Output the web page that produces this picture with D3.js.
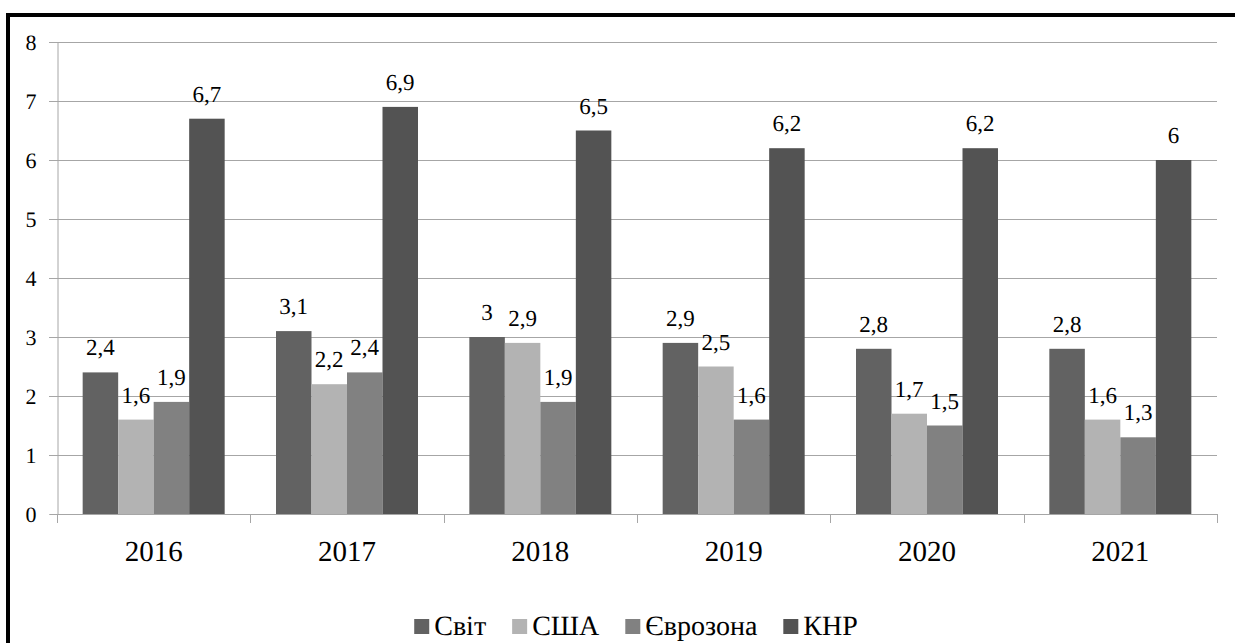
<!DOCTYPE html>
<html><head><meta charset="utf-8">
<script src="https://cdn.jsdelivr.net/npm/d3@7"></script>
<style>
html,body{margin:0;padding:0;background:#fff;}
svg{display:block;text-rendering:geometricPrecision;}
</style></head>
<body>
<svg id="chart" width="1235" height="643"></svg>
<script>
const years = ["2016","2017","2018","2019","2020","2021"];
const seriesNames = ["Світ","США","Єврозона","КНР"];
const svit = [2.4, 3.1, 3, 2.9, 2.8, 2.8];
const usa = [1.6, 2.2, 2.9, 2.5, 1.7, 1.6];
const euro = [1.9, 2.4, 1.9, 1.6, 1.5, 1.3];
const china = [6.7, 6.9, 6.5, 6.2, 6.2, 6];
const yTicks = [0,1,2,3,4,5,6,7,8];
const colors = ["#626262","#b3b3b3","#818181","#535353"];

const values = [svit, usa, euro, china];
const font = px => `normal ${px}px 'Liberation Serif', 'Tinos', 'Times New Roman', serif`;
const svg = d3.select("#chart");
const W = 1235, H = 643;
const pLeft = 57, pRight = 1217, pTop = 42, pBottom = 514;

// frame (left and top thick black lines)
svg.append("line").attr("x1",8).attr("x2",8).attr("y1",13).attr("y2",H).attr("stroke","#000").attr("stroke-width",4);
svg.append("line").attr("x1",6).attr("x2",W).attr("y1",15).attr("y2",15).attr("stroke","#000").attr("stroke-width",4);

const y = d3.scaleLinear().domain([0,8]).range([pBottom, pTop]);
const x0 = d3.scaleBand().domain(years).range([pLeft, pRight]).padding(0);
const groupW = 142;
const x1 = d3.scaleBand().domain(seriesNames).range([(x0.bandwidth()-groupW)/2, (x0.bandwidth()+groupW)/2]).padding(0);

// gridlines
svg.append("g").selectAll("line").data(yTicks.filter(d=>d>0)).join("line")
  .attr("x1", pLeft-8).attr("x2", pRight)
  .attr("y1", d=>Math.round(y(d))+0.5).attr("y2", d=>Math.round(y(d))+0.5)
  .attr("stroke","#a6a6a6").attr("stroke-width",1);

// y axis
const yAxis = d3.axisLeft(y).tickValues(yTicks).tickSize(8).tickPadding(13).tickFormat(d=>d);
const gy = svg.append("g").attr("transform",`translate(${pLeft+0.5},0)`).call(yAxis)
  .attr("font-family", null).attr("font-size", null);
gy.select(".domain").attr("stroke","#a6a6a6");
gy.selectAll(".tick line").attr("stroke","#a6a6a6");
gy.selectAll(".tick text").style("font", font(22)).attr("fill","#000");

// bars
const groups = svg.append("g").selectAll("g").data(years).join("g")
  .attr("transform", d=>`translate(${x0(d)},0)`);
groups.selectAll("rect").data((d,i)=>seriesNames.map((s,j)=>({s, j, v: values[j][i]}))).join("rect")
  .attr("x", d=>x1(d.s)).attr("width", x1.bandwidth())
  .attr("y", d=>y(d.v)).attr("height", d=>pBottom - y(d.v))
  .attr("fill", d=>colors[d.j]);

// data labels
groups.selectAll("text.lbl").data((d,i)=>seriesNames.map((s,j)=>({s, j, v: values[j][i]}))).join("text")
  .attr("class","lbl")
  .attr("x", d=>x1(d.s)+x1.bandwidth()/2)
  .attr("y", d=>y(d.v)-17)
  .attr("text-anchor","middle").attr("fill","#000").style("font", font(23))
  .text(d=>String(d.v).replace(".",","));

// x axis
const xAxis = d3.axisBottom(x0).tickSize(0).tickPadding(0);
const gx = svg.append("g").attr("transform",`translate(0,${pBottom+0.5})`).call(xAxis)
  .attr("font-family", null).attr("font-size", null);
gx.select(".domain").remove();
svg.append("line").attr("x1",pLeft).attr("x2",pRight+0.5).attr("y1",pBottom+0.5).attr("y2",pBottom+0.5).attr("stroke","#a6a6a6");
gx.selectAll(".tick text").style("font", font(29)).attr("fill","#000").attr("dy",0).attr("y",46);
// category boundary ticks
const bounds = years.map(d=>x0(d)).concat([pRight]);
svg.append("g").selectAll("line").data(bounds).join("line")
  .attr("x1",d=>Math.round(d)+0.5).attr("x2",d=>Math.round(d)+0.5)
  .attr("y1",pBottom).attr("y2",pBottom+9).attr("stroke","#a6a6a6");

// legend
const legend = svg.append("g");
let cx = 0;
seriesNames.forEach((s,i)=>{
  const g = legend.append("g").attr("transform",`translate(${cx},0)`);
  g.append("rect").attr("x",0).attr("y",-16).attr("width",15).attr("height",15).attr("fill",colors[i]);
  const t = g.append("text").attr("x",20).attr("y",0).attr("fill","#000").style("font", font(28)).text(s);
  cx += 20 + t.node().getComputedTextLength() + 26;
});
const lw = cx - 26;
legend.attr("transform",`translate(${636 - lw/2},635)`);
</script>
</body></html>
